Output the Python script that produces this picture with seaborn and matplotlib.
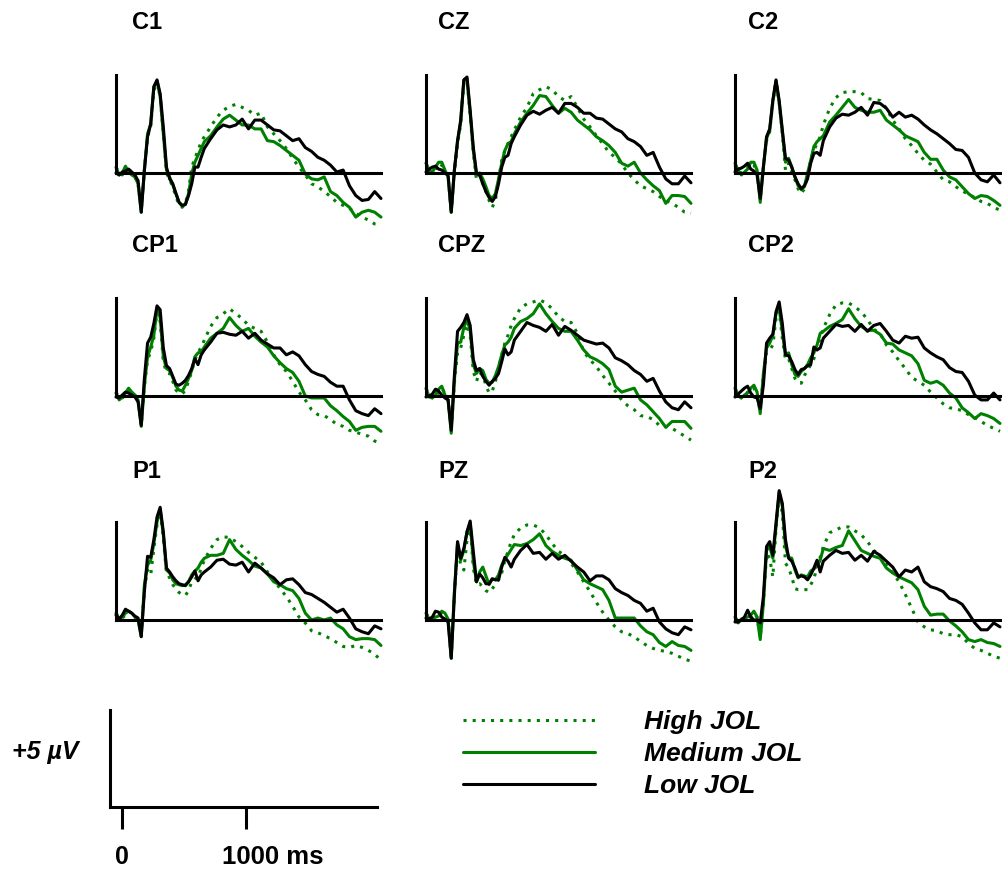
import matplotlib
matplotlib.use("Agg")
import matplotlib.pyplot as plt
import pandas as pd
import seaborn as sns

# ---------------- data (µV) ----------------
times = [-100, -75, -50, -25, 0, 25, 50, 75, 100, 125, 150, 175, 200, 225, 250,
         275, 300, 325, 350, 375, 400, 425, 450, 475, 500, 525, 550, 575, 600,
         650, 700, 750, 800, 850, 900, 950, 1000, 1050, 1100, 1150, 1200, 1250,
         1300, 1350, 1400, 1450, 1500, 1550, 1600, 1650, 1700, 1750, 1800, 1850,
         1900, 1950, 2000]

conditions = ["High JOL", "Medium JOL", "Low JOL"]
channels = ["C1", "CZ", "C2", "CP1", "CPZ", "CP2", "P1", "PZ", "P2"]

c1_high = [0.3, 0.0, -0.1, 0.15, 0.05, -0.1, -0.2, -0.6, -1.9, 0.15, 1.85, 2.35, 4.2, 4.65, 3.9, 2.0, 0.0, -0.35, -0.7, -1.2, -1.65, -1.75, -1.55, -0.9, 0.3, 0.75, 1.15, 1.6, 1.85,
           2.35, 2.85, 3.2, 3.4, 3.5, 3.35, 3.2, 2.95, 3.05, 2.35, 2.0, 1.65, 1.25, 0.75, 0.3, -0.1, -0.55, -0.7, -0.95, -1.2, -1.5, -1.65, -1.8, -2.05, -2.25, -2.4, -2.6, -2.65]
c1_medium = [0.3, -0.1, 0.0, 0.35, 0.05, -0.1, -0.2, -0.55, -2.0, 0.15, 2.0, 2.5, 4.4, 4.7, 3.9, 2.0, 0.15, -0.2, -0.6, -1.05, -1.5, -1.7, -1.6, -1.05, -0.05, 0.55, 0.9, 1.25, 1.6,
             1.9, 2.35, 2.75, 2.95, 2.7, 2.45, 2.45, 2.25, 2.25, 1.65, 1.6, 1.4, 1.15, 0.9, 0.65, -0.05, -0.3, -0.35, -0.2, -0.95, -1.15, -1.5, -1.75, -2.25, -2.0, -1.9, -2.0, -2.25]
c1_low = [0.0, -0.1, 0.05, 0.1, 0.2, 0.05, -0.1, -0.4, -2.0, 0.15, 1.85, 2.5, 4.4, 4.75, 4.05, 2.35, 0.3, -0.3, -0.55, -1.05, -1.5, -1.65, -1.6, -1.15, -0.55, 0.3, 0.3, 0.8, 1.25,
          1.75, 2.2, 2.45, 2.35, 2.45, 2.75, 2.25, 2.7, 2.7, 2.45, 2.2, 2.15, 1.9, 1.65, 1.75, 1.3, 1.1, 0.8, 0.65, 0.4, 0.05, 0.15, -0.65, -1.15, -1.4, -1.35, -0.95, -1.3]

cz_high = [0.55, 0.05, 0.0, 0.2, 0.5, 0.4, 0.05, -0.2, -1.9, 0.05, 1.5, 2.5, 4.65, 4.7, 2.95, 1.0, -0.35, -0.1, -0.55, -0.95, -1.4, -1.75, -1.4, -0.35, 0.65, 1.15, 1.5, 1.85, 2.2,
           2.85, 3.35, 4.05, 4.25, 4.4, 4.25, 3.9, 3.7, 3.9, 3.35, 2.75, 2.35, 1.9, 1.5, 1.05, 0.8, 0.45, 0.0, -0.35, -0.65, -0.8, -0.95, -1.2, -1.4, -1.55, -1.75, -2.0, -2.05]
cz_medium = [0.5, 0.15, 0.05, 0.3, 0.55, 0.55, 0.15, -0.2, -2.0, 0.15, 1.6, 2.6, 4.75, 4.8, 3.05, 1.15, -0.1, 0.0, -0.3, -0.7, -1.15, -1.3, -1.05, -0.3, 0.5, 1.15, 1.5, 1.6, 2.0,
             2.6, 3.05, 3.45, 3.95, 3.9, 3.45, 3.05, 3.3, 3.1, 2.7, 2.45, 2.2, 1.85, 1.65, 1.4, 1.05, 0.5, 0.35, 0.55, 0.0, -0.35, -0.65, -0.9, -1.55, -1.15, -1.15, -1.2, -1.55]
cz_low = [0.05, 0.2, 0.3, 0.35, 0.2, 0.15, 0.0, -0.1, -2.0, 0.15, 1.65, 2.7, 4.75, 4.9, 3.2, 1.3, 0.0, -0.1, -0.55, -0.95, -1.25, -1.45, -1.2, -0.55, 0.3, 0.8, 0.9, 1.5, 1.85,
          2.45, 2.95, 3.15, 3.0, 3.2, 3.35, 3.05, 3.55, 3.55, 3.35, 3.05, 3.05, 2.8, 2.75, 2.5, 2.25, 2.1, 1.75, 1.6, 1.35, 0.9, 1.05, 0.3, -0.3, -0.55, -0.55, -0.15, -0.5]

c2_high = [0.4, 0.05, 0.0, 0.15, 0.3, 0.5, 0.4, 0.05, -1.3, 0.3, 1.65, 2.1, 3.6, 4.65, 3.6, 2.0, 0.15, 0.5, 0.05, -0.35, -0.8, -1.05, -0.8, -0.1, 0.65, 1.15, 1.5, 1.85, 2.45,
           3.3, 3.85, 4.1, 4.15, 4.15, 4.1, 3.8, 3.75, 3.7, 3.3, 2.7, 2.25, 1.75, 1.4, 1.0, 0.65, 0.45, 0.05, -0.35, -0.45, -0.7, -0.9, -1.1, -1.25, -1.45, -1.55, -1.75, -1.9]
c2_medium = [0.5, 0.15, -0.1, 0.05, 0.2, 0.55, 0.55, 0.15, -1.5, 0.3, 1.75, 2.2, 3.7, 4.7, 3.6, 2.1, 0.55, 0.75, 0.3, -0.2, -0.65, -0.85, -0.7, 0.0, 0.65, 1.35, 1.6, 1.75, 1.9,
             2.6, 2.95, 3.35, 3.75, 3.35, 3.2, 3.1, 3.1, 3.2, 2.7, 2.45, 2.2, 1.9, 1.75, 1.6, 1.05, 0.7, 0.7, 0.15, -0.2, -0.35, -0.7, -1.05, -1.3, -1.15, -1.2, -1.4, -1.65]
c2_low = [0.05, 0.2, 0.25, 0.35, 0.5, 0.2, 0.1, -0.1, -1.3, 0.3, 1.85, 2.25, 3.7, 4.75, 3.7, 2.2, 0.75, 0.65, 0.3, -0.2, -0.55, -0.8, -0.65, -0.3, 0.5, 1.0, 1.05, 0.9, 1.65,
          2.35, 2.8, 3.0, 2.95, 3.1, 3.35, 2.95, 3.6, 3.55, 3.3, 2.85, 3.1, 2.85, 2.95, 2.75, 2.45, 2.2, 2.0, 1.75, 1.5, 1.2, 1.15, 0.8, 0.0, -0.35, -0.45, -0.1, -0.5]

cp1_high = [0.2, -0.1, -0.1, 0.05, 0.3, 0.2, 0.05, -0.2, -1.5, 0.5, 1.85, 2.25, 2.95, 4.3, 3.8, 1.75, 1.2, 1.15, 0.75, 0.3, 0.15, 0.1, 0.3, 0.75, 1.25, 1.85, 2.2, 2.5, 2.85,
            3.55, 4.0, 4.2, 4.45, 4.2, 3.95, 3.6, 3.45, 3.3, 2.75, 2.1, 1.6, 1.25, 0.75, 0.2, -0.2, -0.7, -0.95, -1.0, -1.2, -1.45, -1.55, -1.75, -1.85, -1.95, -2.05, -2.3, -2.4]
cp1_medium = [0.15, -0.2, -0.05, 0.15, 0.4, 0.2, 0.05, -0.2, -1.55, 0.55, 2.0, 2.5, 3.1, 4.45, 4.0, 2.0, 1.4, 1.3, 0.95, 0.5, 0.3, 0.25, 0.55, 0.9, 1.3, 2.0, 2.2, 2.25, 2.5,
              2.95, 3.2, 3.45, 4.0, 3.6, 3.3, 3.45, 3.05, 2.75, 2.5, 2.05, 1.7, 1.4, 1.2, 0.75, 0.0, -0.1, -0.1, -0.1, -0.5, -0.75, -1.05, -1.3, -1.75, -1.6, -1.55, -1.55, -1.8]
cp1_low = [-0.05, -0.1, 0.05, 0.2, 0.15, 0.05, -0.05, -0.3, -1.5, 0.9, 2.7, 3.0, 3.7, 4.6, 4.4, 2.45, 1.55, 1.4, 1.0, 0.6, 0.55, 0.65, 0.8, 1.05, 1.4, 1.9, 1.6, 2.1, 2.35,
           2.75, 3.2, 3.25, 3.15, 3.1, 3.3, 2.95, 3.2, 2.85, 2.65, 2.45, 2.45, 2.1, 2.25, 2.05, 1.6, 1.25, 1.1, 1.0, 0.7, 0.5, 0.5, -0.2, -0.75, -0.9, -1.0, -0.65, -0.9]

cpz_high = [0.4, 0.05, -0.1, -0.05, 0.2, 0.4, 0.15, -0.2, -1.8, 0.65, 2.25, 2.45, 3.1, 3.65, 3.1, 1.25, 0.75, 1.2, 1.05, 0.55, 0.15, 0.25, 0.75, 1.4, 2.1, 2.7, 3.1, 3.6, 3.95,
            4.5, 4.7, 4.8, 4.9, 4.75, 4.45, 4.05, 3.8, 3.75, 3.2, 2.25, 1.85, 1.5, 1.05, 0.65, 0.25, -0.2, -0.5, -0.7, -1.0, -1.05, -1.2, -1.5, -1.55, -1.65, -1.85, -2.05, -2.25]
cpz_medium = [0.4, -0.05, -0.1, 0.05, 0.35, 0.5, 0.05, -0.2, -1.9, 0.8, 2.7, 2.75, 3.5, 3.9, 3.35, 1.6, 1.15, 1.4, 1.3, 0.85, 0.65, 0.7, 1.05, 1.5, 2.1, 2.6, 2.75, 3.0, 3.45,
              3.8, 3.95, 4.2, 4.7, 4.2, 3.8, 3.45, 3.3, 3.3, 2.85, 2.35, 2.0, 1.85, 1.65, 1.35, 0.5, 0.2, 0.3, 0.4, -0.2, -0.45, -0.8, -1.15, -1.6, -1.3, -1.3, -1.3, -1.65]
cpz_low = [-0.05, 0.0, 0.1, 0.35, 0.25, 0.05, -0.1, -0.2, -1.75, 1.05, 3.3, 3.5, 3.75, 4.15, 3.6, 1.85, 1.3, 1.4, 1.0, 0.75, 0.55, 0.75, 0.9, 1.15, 1.75, 2.4, 2.1, 2.25, 2.85,
           3.3, 3.75, 3.6, 3.5, 3.3, 3.65, 3.1, 3.55, 3.35, 3.1, 2.85, 2.75, 2.65, 2.7, 2.45, 1.95, 1.8, 1.6, 1.3, 1.1, 0.75, 0.9, 0.25, -0.3, -0.6, -0.7, -0.3, -0.6]

cp2_high = [0.4, 0.05, -0.1, -0.05, 0.2, 0.3, 0.4, 0.05, -0.8, 1.0, 2.25, 2.35, 2.6, 3.95, 4.35, 2.95, 1.85, 1.9, 1.4, 0.9, 0.7, 0.65, 1.05, 1.3, 1.6, 1.9, 2.45, 2.95, 3.45,
            4.15, 4.65, 4.75, 4.75, 4.55, 4.3, 3.9, 3.4, 3.2, 2.6, 2.25, 1.8, 1.4, 0.95, 0.75, 0.55, 0.2, -0.1, -0.4, -0.6, -0.65, -0.75, -0.95, -1.1, -1.3, -1.5, -1.65, -1.8]
cp2_medium = [0.4, 0.05, -0.1, 0.05, 0.15, 0.4, 0.55, 0.2, -0.9, 1.15, 2.45, 2.7, 3.1, 4.2, 4.45, 3.3, 2.1, 2.2, 1.6, 1.1, 1.0, 1.25, 1.4, 1.6, 1.95, 2.2, 2.6, 3.2, 3.3,
              3.55, 3.7, 3.9, 4.45, 3.95, 3.55, 3.35, 3.35, 3.15, 2.7, 2.65, 2.35, 2.2, 2.05, 1.65, 0.8, 0.65, 0.75, 0.55, 0.15, -0.1, -0.6, -0.85, -1.15, -0.9, -1.0, -1.15, -1.4]
cp2_low = [-0.05, 0.1, 0.25, 0.4, 0.5, 0.15, -0.05, -0.1, -0.65, 0.55, 2.7, 2.95, 3.15, 4.3, 4.8, 3.7, 2.1, 2.05, 1.75, 1.35, 1.1, 1.35, 1.4, 1.55, 1.6, 2.5, 2.35, 2.45, 2.95,
           3.3, 3.65, 3.55, 3.6, 3.3, 3.65, 3.3, 3.6, 3.7, 3.3, 2.85, 2.7, 3.05, 2.95, 3.0, 2.45, 2.2, 2.0, 1.85, 1.45, 1.25, 1.2, 0.75, 0.05, -0.2, -0.2, 0.15, -0.2]

p1_high = [0.35, 0.1, 0.1, 0.25, 0.45, 0.35, 0.15, 0.0, -0.75, 1.6, 2.55, 2.3, 3.65, 4.85, 5.55, 4.15, 2.4, 2.15, 1.8, 1.6, 1.4, 1.3, 1.25, 1.5, 1.95, 2.1, 2.15, 2.65, 3.05,
           3.65, 4.1, 4.25, 4.2, 4.0, 3.75, 3.45, 3.2, 2.95, 2.45, 2.05, 1.6, 1.2, 0.7, 0.15, -0.15, -0.55, -0.65, -0.8, -0.95, -1.15, -1.35, -1.4, -1.3, -1.4, -1.55, -1.75, -2.05]
p1_medium = [0.35, 0.05, 0.15, 0.35, 0.45, 0.35, 0.15, 0.0, -0.85, 1.8, 2.8, 3.05, 3.9, 5.0, 5.65, 4.35, 2.55, 2.4, 2.05, 1.85, 1.8, 1.75, 1.8, 1.95, 2.3, 2.5, 2.65, 2.95, 3.15,
             3.3, 3.3, 3.4, 4.1, 3.6, 3.3, 3.05, 2.75, 2.65, 2.35, 1.95, 1.8, 1.6, 1.5, 1.1, 0.35, 0.0, 0.1, 0.0, 0.1, -0.25, -0.45, -0.85, -1.0, -0.95, -0.95, -1.0, -1.3]
p1_low = [0.25, 0.05, 0.25, 0.55, 0.45, 0.35, 0.2, 0.1, -0.85, 1.45, 3.25, 3.2, 4.1, 5.25, 5.75, 4.5, 2.65, 2.45, 2.2, 2.0, 1.85, 1.8, 1.75, 1.95, 2.2, 2.5, 2.0, 2.3, 2.45,
          2.7, 3.05, 3.1, 2.85, 2.8, 2.95, 2.45, 2.9, 2.65, 2.35, 2.15, 1.8, 2.05, 2.1, 1.8, 1.4, 1.3, 1.1, 0.9, 0.65, 0.4, 0.55, 0.1, -0.45, -0.6, -0.7, -0.3, -0.45]

pz_high = [0.35, 0.1, 0.05, 0.1, 0.25, 0.35, 0.25, 0.0, -1.85, 1.3, 3.8, 2.8, 2.55, 4.1, 4.85, 2.65, 1.8, 1.85, 1.7, 1.5, 1.4, 1.6, 1.8, 2.05, 2.4, 3.05, 3.5, 4.0, 4.35,
           4.7, 4.85, 4.85, 4.7, 4.35, 3.9, 3.5, 3.3, 2.9, 2.45, 1.95, 1.45, 0.9, 0.4, 0.0, -0.35, -0.6, -0.7, -0.85, -1.1, -1.3, -1.45, -1.55, -1.6, -1.7, -1.85, -2.0, -2.1]
pz_medium = [0.35, 0.05, 0.05, 0.15, 0.2, 0.45, 0.35, 0.05, -1.95, 1.45, 3.9, 3.05, 3.55, 4.5, 4.95, 3.0, 1.95, 2.45, 2.7, 2.25, 1.8, 2.1, 2.05, 2.3, 2.8, 3.1, 3.35, 3.6, 3.85,
             3.8, 3.9, 4.1, 4.4, 3.8, 3.5, 3.3, 3.15, 3.05, 2.55, 2.05, 1.85, 1.7, 1.55, 1.0, 0.1, 0.1, 0.1, 0.1, -0.3, -0.6, -0.75, -1.15, -1.35, -1.1, -1.3, -1.35, -1.55]
pz_low = [0.1, 0.05, 0.15, 0.45, 0.4, 0.15, 0.05, -0.1, -1.95, 1.3, 4.0, 3.15, 3.65, 4.5, 5.05, 3.5, 1.95, 2.35, 2.15, 1.85, 1.85, 2.1, 2.05, 2.05, 2.7, 3.2, 3.0, 2.7, 3.1,
          3.55, 3.85, 3.4, 3.45, 3.1, 3.4, 3.1, 3.3, 3.0, 2.7, 2.45, 2.0, 2.25, 2.25, 2.05, 1.6, 1.4, 1.25, 1.0, 0.85, 0.45, 0.6, -0.1, -0.45, -0.65, -0.75, -0.35, -0.5]

p2_high = [0.15, -0.1, 0.0, 0.1, 0.15, 0.15, 0.35, 0.15, -0.9, 0.85, 3.4, 3.15, 2.2, 4.65, 6.4, 5.45, 2.9, 2.65, 2.2, 1.6, 1.55, 1.55, 1.55, 1.55, 1.8, 2.1, 2.7, 3.2, 3.75,
           4.45, 4.6, 4.75, 4.75, 4.55, 4.35, 4.0, 3.55, 3.3, 2.8, 2.4, 1.95, 1.3, 0.6, -0.1, -0.35, -0.5, -0.55, -0.7, -0.75, -0.75, -0.85, -1.2, -1.45, -1.55, -1.7, -1.85, -1.95]
p2_medium = [0.15, -0.15, 0.05, 0.1, 0.15, 0.25, 0.45, 0.15, -1.0, 0.85, 3.55, 3.75, 3.15, 4.75, 6.5, 5.8, 3.75, 3.2, 3.15, 2.55, 2.15, 2.3, 2.25, 2.2, 2.5, 2.6, 2.75, 3.05, 3.65,
             3.55, 3.7, 3.8, 4.55, 4.05, 3.55, 3.4, 3.25, 3.15, 2.65, 2.4, 2.2, 2.05, 1.9, 1.55, 0.7, 0.25, 0.3, 0.3, -0.05, -0.3, -0.6, -1.0, -1.1, -1.0, -1.15, -1.2, -1.35]
p2_low = [-0.1, -0.1, 0.0, 0.15, 0.5, 0.15, 0.0, 0.0, -0.15, 1.2, 3.75, 4.0, 3.3, 4.95, 6.6, 5.95, 4.1, 3.15, 3.0, 2.65, 2.2, 2.25, 2.2, 2.05, 2.3, 2.65, 3.05, 2.45, 3.0,
          3.3, 3.55, 3.4, 3.45, 3.05, 3.3, 3.0, 3.5, 3.3, 3.0, 2.7, 2.2, 2.55, 2.45, 2.7, 1.95, 1.7, 1.6, 1.45, 1.1, 1.0, 0.8, 0.35, -0.15, -0.5, -0.5, -0.15, -0.35]

series = {
    "C1": (c1_high, c1_medium, c1_low),
    "CZ": (cz_high, cz_medium, cz_low),
    "C2": (c2_high, c2_medium, c2_low),
    "CP1": (cp1_high, cp1_medium, cp1_low),
    "CPZ": (cpz_high, cpz_medium, cpz_low),
    "CP2": (cp2_high, cp2_medium, cp2_low),
    "P1": (p1_high, p1_medium, p1_low),
    "PZ": (pz_high, pz_medium, pz_low),
    "P2": (p2_high, p2_medium, p2_low),
}

rows = []
for ch in channels:
    for cond, vals in zip(conditions, series[ch]):
        for t, v in zip(times, vals):
            rows.append({"channel": ch, "condition": cond, "time": t, "uv": v})
df = pd.DataFrame(rows)

# ---------------- style ----------------
sns.set_theme(style="white")
plt.rcParams["font.family"] = ["Liberation Sans", "DejaVu Sans"]
plt.rcParams["axes.facecolor"] = "none"
plt.rcParams["text.color"] = "black"

GREEN = "#008000"
palette = {"High JOL": GREEN, "Medium JOL": GREEN, "Low JOL": "black"}
dashes = {"High JOL": (1, 2), "Medium JOL": "", "Low JOL": ""}
LW = 2.2

W, H = 1003, 873
fig = plt.figure(figsize=(W / 100, H / 100), dpi=100)

col_x = [116, 426, 735]          # pixel x of each column's y-axis
row_base = [173, 396, 620]       # pixel y of each row's zero line
panel_w = 265                    # pixels for -100 .. 2000 ms
px_uv = 19.6                     # pixels per µV
ylo, yhi = -3.5, 7.5
title_x = [132, 438, 748]
title_y = [29, 252, 478]

first_ax = None
for i, ch in enumerate(channels):
    r, c = divmod(i, 3)
    left = col_x[c] / W
    bottom = 1 - (row_base[r] - ylo * px_uv) / H
    height = (yhi - ylo) * px_uv / H
    ax = fig.add_axes([left, bottom, panel_w / W, height])
    sns.lineplot(data=df[df["channel"] == ch], x="time", y="uv",
                 hue="condition", style="condition",
                 hue_order=conditions, style_order=conditions,
                 palette=palette, dashes=dashes, linewidth=LW,
                 estimator=None, sort=False, legend=False, ax=ax)
    ax.set_xlim(-100, 2000)
    ax.set_ylim(ylo, yhi)
    for ln in ax.lines:
        ln.set_clip_on(False)
    for s in ["top", "right"]:
        ax.spines[s].set_visible(False)
    ax.spines["left"].set_position(("data", -100))
    ax.spines["left"].set_bounds(0, 5)
    ax.spines["bottom"].set_position(("data", 0))
    ax.spines["bottom"].set_bounds(-100, 2000)
    for s in ["left", "bottom"]:
        ax.spines[s].set_linewidth(LW)
        ax.spines[s].set_color("black")
    ax.set_xticks([])
    ax.set_yticks([])
    ax.set_xlabel("")
    ax.set_ylabel("")
    ax.grid(False)
    fig.text(title_x[c] / W, 1 - title_y[r] / H, ch, fontsize=17,
             fontweight="bold", ha="left", va="baseline", color="black")
    if first_ax is None:
        first_ax = ax

# ---------------- scale bar ----------------
sax = fig.add_axes([110 / W, 1 - 807 / H, 267 / W, 97 / H])
sax.set_xlim(-97, 2056)
sax.set_ylim(0, 5)
for s in ["top", "right"]:
    sax.spines[s].set_visible(False)
for s in ["left", "bottom"]:
    sax.spines[s].set_linewidth(LW)
    sax.spines[s].set_color("black")
sax.set_yticks([])
sax.set_xticks([0, 1000])
sax.tick_params(axis="x", direction="out", length=16, width=LW,
                color="black", labelbottom=False, bottom=True)
sax.grid(False)
sax.annotate("0", xy=(0, 0), xycoords="data", xytext=(0, -36),
             textcoords="offset points", ha="center", va="center",
             fontsize=18, fontweight="bold", color="black")
sax.annotate("1000 ms", xy=(1000, 0), xycoords="data", xytext=(-17.5, -36),
             textcoords="offset points", ha="left", va="center",
             fontsize=18.5, fontweight="bold", color="black")
fig.text(12 / W, 1 - 752 / H, "+5 µV", fontsize=18, fontweight="bold",
         fontstyle="italic", ha="left", va="center", color="black")

# ---------------- legend ----------------
handles = list(first_ax.get_lines()[:3])
leg = fig.legend(handles, conditions, loc="upper left",
                 bbox_to_anchor=(463 / W, 1 - 710 / H), frameon=False,
                 handlelength=5.0, handletextpad=1.85, labelspacing=0.3,
                 borderpad=0, borderaxespad=0,
                 prop={"weight": "bold", "style": "italic", "size": 19})
for txt in leg.get_texts():
    txt.set_color("black")

fig.savefig("out.png", dpi=100)
